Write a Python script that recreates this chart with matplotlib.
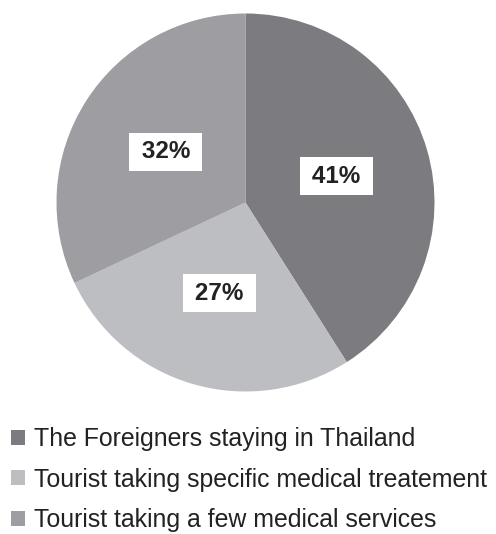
import matplotlib
matplotlib.use("Agg")
import matplotlib.pyplot as plt
from matplotlib.patches import Patch

labels = ["The Foreigners staying in Thailand",
          "Tourist taking specific medical treatement",
          "Tourist taking a few medical services"]
values = [41, 27, 32]
colors = ["#7b7b80", "#bdbec2", "#9d9da2"]

plt.rcParams['font.family'] = ['Liberation Sans', 'DejaVu Sans']

fig = plt.figure(figsize=(4.96, 5.34), dpi=100)
ax = fig.add_axes([56.5/496, 1 - 391.5/534, 378/496, 378/534])
wedges, texts, autotexts = ax.pie(values, colors=colors, startangle=90, counterclock=False,
                                  autopct=lambda p: '\u2009%d%%\u2009' % round(p), pctdistance=0.5,
                                  wedgeprops=dict(linewidth=0))
for t in autotexts:
    t.set_fontsize(17.5)
    t.set_fontweight('bold')
    t.set_color('#222222')
    t.set_bbox(dict(facecolor='white', edgecolor='none', boxstyle='square,pad=0.3'))
ax.set_xlim(-1, 1)
ax.set_ylim(-1, 1)
ax.set_aspect('equal')

handles = [Patch(facecolor=c, edgecolor='none') for c in colors]
fig.legend(handles, labels, loc='upper left', bbox_to_anchor=(11/496, 1 - 427/534),
           frameon=False, fontsize=17.9, handlelength=0.57, handleheight=0.55,
           handletextpad=0.34, labelspacing=0.67, labelcolor='#222222',
           borderpad=0, borderaxespad=0)

fig.savefig("out.png", dpi=100)
